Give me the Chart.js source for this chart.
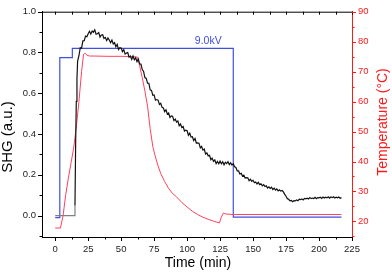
<!DOCTYPE html>
<html><head><meta charset="utf-8">
<script src="https://cdn.jsdelivr.net/npm/chart.js@4"></script>
<style>html,body{margin:0;padding:0;background:#fff}#w{width:392px;height:272px}</style>
</head><body><div id="w"><canvas id="c"></canvas></div>
<script>
// ---- data ----
const X_TICKS = [0,25,50,75,100,125,150,175,200,225];
const X_MINOR = [-12.5,12.5,37.5,62.5,87.5,112.5,137.5,162.5,187.5,212.5];
const Y_TICKS = [0,0.2,0.4,0.6,0.8,1.0];
const Y_MINOR = [-0.1,0.1,0.3,0.5,0.7,0.9];
const T_TICKS = [20,30,40,50,60,70,80,90];
const T_MINOR = [15,25,35,45,55,65,75,85];
const VOLT_LABEL = "9.0kV";
const VOLT_LABEL_AT = [116, 0.857];

const VOLTAGE = [[0,-0.01],[3.5,-0.01],[3.5,0.775],[13,0.775],[13,0.82],[135,0.82],[135,-0.008],[217,-0.008]];

const TEMP = [[0,17.8],[4,17.8],[6,22],[8,29],[10,34.5],[12,39.5],[14,44.5],[16,51.5],[18,60],[20,70],[21.5,75.8],[22.5,76.2],[24,75.5],[26,75.2],[30,75.2],[40,75.1],[50,75.1],[60,75],[62.5,74.8],[64,72],[66,68],[68,63.5],[70,58.5],[72,51],[74,45],[76,41.5],[78,38.5],[80,36],[83,33.3],[86,31],[89,29.3],[92,28.2],[96,26.3],[100,24.8],[104,23.4],[108,22.3],[112,21.4],[116,20.7],[120,20.1],[124.5,19.5],[126,21.5],[127.5,22.8],[129,22.5],[135,22.3],[217,22.3]];

const SHG = [[0,0],[14.8,0],[15,0.05],[15.5,0.35],[16,0.56],[16.5,0.67],[17,0.758],[18,0.784],[19,0.823],[20,0.822],
[21,0.857],[22,0.858],[23,0.88],[24,0.877],[25,0.892],[26,0.904],[27,0.89],[28,0.905],[29,0.899],[30,0.911],
[31,0.89],[32,0.892],[33,0.898],[34,0.876],[35,0.886],[36,0.887],[37,0.869],[38,0.874],[39,0.858],[40,0.871],
[41,0.861],[42,0.848],[43,0.861],[44,0.842],[45,0.848],[46,0.828],[47,0.84],[48,0.814],[49,0.824],[50,0.822],
[51,0.804],[52,0.814],[53,0.792],[54,0.797],[55,0.8],[56,0.777],[57,0.783],[58,0.766],[59,0.783],[60,0.765],
[61,0.774],[62,0.755],[63,0.768],[64,0.744],[65,0.743],[66,0.716],[67,0.707],[68,0.677],[69,0.673],[70,0.649],
[71,0.649],[72,0.617],[73,0.614],[74,0.59],[75,0.592],[76,0.566],[77,0.569],[78,0.566],[79,0.545],[80,0.551],
[81,0.531],[82,0.528],[83,0.51],[84,0.519],[85,0.498],[86,0.503],[87,0.481],[88,0.489],[89,0.487],[90,0.466],
[91,0.473],[92,0.459],[93,0.464],[94,0.441],[95,0.449],[96,0.432],[97,0.437],[98,0.415],[99,0.419],[100,0.416],
[101,0.394],[102,0.404],[103,0.385],[104,0.387],[105,0.368],[106,0.378],[107,0.356],[108,0.357],[109,0.355],[110,0.332],
[111,0.339],[112,0.321],[113,0.326],[114,0.302],[115,0.307],[116,0.293],[117,0.296],[118,0.274],[119,0.282],[120,0.266],
[121,0.273],[122,0.255],[123,0.266],[124,0.254],[125,0.267],[126,0.254],[127,0.264],[128,0.249],[129,0.262],[130,0.255],
[131,0.264],[132,0.25],[133,0.259],[134,0.248],[135,0.254],[136,0.239],[137,0.236],[138,0.219],[139,0.219],[140,0.204],
[141,0.207],[142,0.194],[143,0.198],[144,0.184],[145,0.186],[146,0.185],[147,0.171],[148,0.178],[149,0.168],[150,0.173],
[151,0.161],[152,0.165],[153,0.155],[154,0.163],[155,0.152],[156,0.156],[157,0.146],[158,0.152],[159,0.143],[160,0.146],
[161,0.135],[162,0.141],[163,0.133],[164,0.139],[165,0.128],[166,0.134],[167,0.125],[168,0.131],[169,0.121],[170,0.126],
[171,0.12],[172,0.123],[173,0.116],[174,0.104],[175,0.095],[176,0.083],[177,0.08],[178,0.072],[179,0.074],[180,0.068],
[181,0.073],[182,0.072],[183,0.077],[184,0.073],[185,0.08],[186,0.078],[187,0.082],[188,0.077],[189,0.084],[190,0.082],
[191,0.085],[192,0.081],[193,0.088],[194,0.083],[195,0.086],[196,0.084],[197,0.09],[198,0.083],[199,0.088],[200,0.087],
[201,0.09],[202,0.084],[203,0.091],[204,0.086],[205,0.09],[206,0.087],[207,0.092],[208,0.085],[209,0.091],[210,0.088],
[211,0.092],[212,0.086],[213,0.09],[214,0.087],[215,0.091],[216,0.085],[217,0.088]];

const toXY = a => a.map(p => ({x:p[0], y:p[1]}));
const FONT = "'Liberation Sans', Arial, sans-serif";
const RED = '#ff1a1a';
const CURVE_RED = '#ff4060';
const BLUE = '#3f4fe0';

const ticksPlugin = {
  id: 'ticksPlugin',
  afterDraw(chart) {
    const {ctx, chartArea: a, scales} = chart;
    const x = scales.x, y = scales.y, t = scales.y1;
    ctx.save();
    ctx.lineWidth = 1;
    ctx.strokeStyle = '#000';
    ctx.beginPath(); ctx.moveTo(a.left, a.top + 0.5); ctx.lineTo(a.right, a.top + 0.5); ctx.stroke();
    const seg = (x1,y1,x2,y2) => { ctx.beginPath(); ctx.moveTo(x1,y1); ctx.lineTo(x2,y2); ctx.stroke(); };
    X_TICKS.forEach(v => { const p = Math.round(x.getPixelForValue(v)) + 0.5; seg(p, a.bottom, p, a.bottom + 4); seg(p, a.top, p, a.top + 3); });
    X_MINOR.forEach(v => { const p = Math.round(x.getPixelForValue(v)) + 0.5; if (p < a.left) return; seg(p, a.bottom, p, a.bottom + 2.5); seg(p, a.top, p, a.top + 3); });
    Y_TICKS.forEach(v => { const p = Math.round(y.getPixelForValue(v)) + 0.5; seg(a.left - 4, p, a.left, p); });
    Y_MINOR.forEach(v => { const p = Math.round(y.getPixelForValue(v)) + 0.5; seg(a.left - 2.5, p, a.left, p); });
    ctx.strokeStyle = RED;
    T_TICKS.forEach(v => { const p = Math.round(t.getPixelForValue(v)) + 0.5; seg(a.right, p, a.right + 4, p); });
    T_MINOR.forEach(v => { const p = Math.round(t.getPixelForValue(v)) + 0.5; seg(a.right, p, a.right + 2.5, p); });
    ctx.fillStyle = BLUE;
    ctx.font = '10.5px ' + FONT;
    ctx.textAlign = 'center'; ctx.textBaseline = 'middle';
    ctx.fillText(VOLT_LABEL, x.getPixelForValue(VOLT_LABEL_AT[0]), y.getPixelForValue(VOLT_LABEL_AT[1]));
    ctx.fillStyle = '#000';
    ctx.font = '14px ' + FONT;
    ctx.fillText('Time (min)', (a.left + a.right) / 2 + 1, 263);
    ctx.save(); ctx.translate(8, 137); ctx.rotate(-Math.PI/2); ctx.font = '15px ' + FONT; ctx.fillText('SHG (a.u.)', 0, 0); ctx.restore();
    ctx.save(); ctx.translate(383, 122); ctx.rotate(-Math.PI/2); ctx.fillStyle = RED; ctx.font = '14px ' + FONT; ctx.fillText('Temperature (°C)', 0, 0); ctx.restore();
    ctx.restore();
  }
};

new Chart(document.getElementById('c'), {
  type: 'line',
  data: { datasets: [
    { data: toXY(SHG), yAxisID: 'y', borderColor: '#111', borderWidth: 1.2, pointRadius: 0, tension: 0, order: 1,
      segment: { borderColor: c => c.p1.parsed.x <= 15.1 ? '#808080' : '#111' } },
    { data: toXY(TEMP), yAxisID: 'y1', borderColor: CURVE_RED, borderWidth: 1, pointRadius: 0, tension: 0, order: 2 },
    { data: toXY(VOLTAGE), yAxisID: 'y', borderColor: BLUE, borderWidth: 1.2, pointRadius: 0, tension: 0, order: 3 }
  ]},
  options: {
    responsive: true, maintainAspectRatio: false, animation: false,
    layout: { padding: { top: 5, left: 0, right: 0, bottom: 0 } },
    plugins: { legend: { display: false }, tooltip: { enabled: false } },
    scales: {
      x: { type: 'linear', min: -10, max: 225,
        afterBuildTicks: s => { s.ticks = X_TICKS.map(v => ({value: v})); },
        afterFit: s => { s.height = 35; },
        grid: { display: false, drawTicks: false },
        border: { display: true, color: '#000', width: 1 },
        ticks: { padding: 7, color: '#222', font: { family: FONT, size: 9.5 }, maxRotation: 0, autoSkip: false } },
      y: { type: 'linear', position: 'left', min: -0.105, max: 1.0,
        afterBuildTicks: s => { s.ticks = Y_TICKS.map(v => ({value: v})); },
        afterFit: s => { s.width = 42; },
        grid: { display: false, drawTicks: false },
        border: { display: true, color: '#000', width: 1 },
        ticks: { padding: 6, color: '#222', font: { family: FONT, size: 9.5 }, callback: v => v.toFixed(1) } },
      y1: { type: 'linear', position: 'right', min: 14.8, max: 90,
        afterBuildTicks: s => { s.ticks = T_TICKS.map(v => ({value: v})); },
        afterFit: s => { s.width = 40; },
        grid: { display: false, drawTicks: false },
        border: { display: true, color: RED, width: 1 },
        ticks: { padding: 6, color: RED, font: { family: FONT, size: 9.5 } } }
    }
  },
  plugins: [ticksPlugin]
});
</script></body></html>
